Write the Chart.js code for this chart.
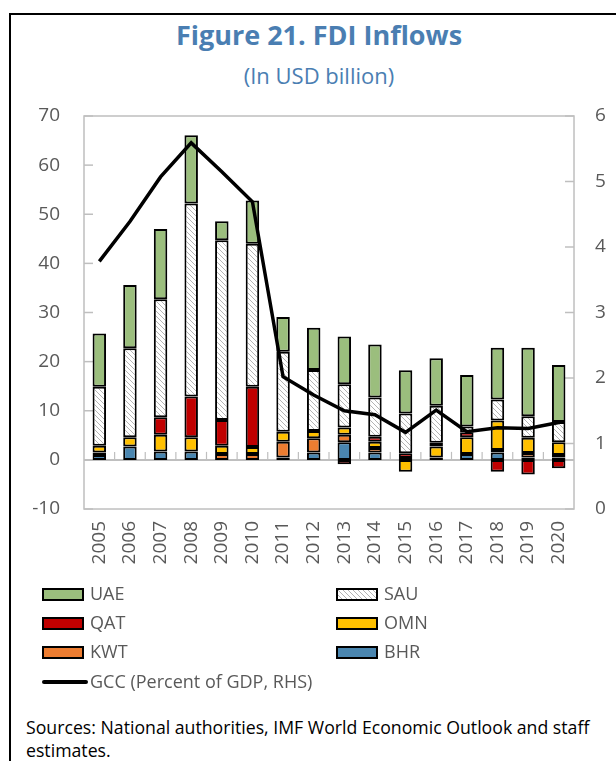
<!DOCTYPE html>
<html lang="en">
<head>
  <meta charset="UTF-8" />
  <title>Figure 21. FDI Inflows</title>
  <script src="https://cdn.jsdelivr.net/npm/chart.js"></script>
  <style>
    html, body { margin: 0; padding: 0; background: #fff; }
    body { width: 616px; height: 761px; position: relative; overflow: hidden; font-family: "Open Sans", sans-serif; }
    .frame { position: absolute; left: 9px; top: 13px; width: 700px; height: 800px; border-left: 2px solid #000; border-top: 2px solid #000; }
    .title { position: absolute; left: 0; width: 638px; top: 16px; text-align: center; color: #4A7EB2; font-weight: 700; font-size: 27px; }
    .subtitle { position: absolute; left: 0; width: 638px; top: 60px; text-align: center; color: #4A7EB2; font-size: 22px; }
    #wrap { position: absolute; left: 0; top: 90px; width: 616px; height: 500px; }
    .leg { position: absolute; font-size: 18px; color: #595959; line-height: 22px; }
    .sw { position: absolute; width: 38px; height: 9px; border: 2px solid #000; }
    .src { position: absolute; left: 26px; top: 716px; font-size: 17.7px; line-height: 23px; color: #000; white-space: nowrap; }
  </style>
</head>
<body>
<div class="frame"></div>
<div class="title">Figure 21. FDI Inflows</div>
<div class="subtitle">(In USD billion)</div>
<div id="wrap"><canvas id="chart"></canvas></div>
<div id="legend"></div>
<div class="src">Sources: National authorities, IMF World Economic Outlook and staff<br>estimates.</div>

<script>
const years = ['2005','2006','2007','2008','2009','2010','2011','2012','2013','2014','2015','2016','2017','2018','2019','2020'];
// USD billion, stacked from the bottom: BHR, KWT, OMN, QAT, SAU, UAE
const bhr = [1.0, 2.7, 1.7, 1.7, 0, 0, 0.5, 1.5, 3.6, 1.5, 0.4, 0.5, 1.2, 1.5, 0.5, 0.5];
const kwt = [0.5, 0, 0, 0, 1.2, 1.2, 3.2, 2.9, 1.5, 0.9, 0, 0, 0, 0.5, 0.9, 0.5];
const omn = [1.4, 1.9, 3.4, 2.9, 1.7, 1.4, 2.0, 1.5, 1.5, 1.3, -2.4, 2.2, 3.4, 6.0, 3.1, 2.6];
const qat = [0, 0, 3.6, 8.3, 5.2, 12.3, 0, 0, -0.9, 1.0, 0.95, 0.8, 1.0, -2.4, -3.0, -1.7];
const sau = [12.0, 18.1, 24.0, 39.3, 36.6, 29.1, 16.3, 12.4, 8.8, 8.0, 8.1, 7.5, 1.2, 4.3, 4.4, 4.1];
const uae = [10.8, 12.9, 14.3, 13.9, 3.9, 8.8, 7.1, 8.6, 9.7, 10.8, 8.8, 9.7, 10.5, 10.5, 13.9, 11.6];
// percent of GDP, right axis
const gcc = [3.78, 4.39, 5.07, 5.59, 5.15, 4.69, 2.02, 1.74, 1.50, 1.44, 1.17, 1.51, 1.18, 1.24, 1.23, 1.32];
const leftTicks = [-10, 70, 10];
const rightTicks = [0, 6, 1];

const GRAY = '#595959';
const AXIS = '#BFBFBF';

// hatch for SAU
function hatch() {
  const s = 5;
  const c = document.createElement('canvas');
  c.width = s; c.height = s;
  const g = c.getContext('2d');
  g.fillStyle = '#fff';
  g.fillRect(0, 0, s, s);
  g.strokeStyle = '#b4b4b4';
  g.lineWidth = 1;
  g.beginPath();
  g.moveTo(0, 0); g.lineTo(s, s);
  g.moveTo(-s, 0); g.lineTo(s, 2 * s);
  g.moveTo(0, -s); g.lineTo(2 * s, s);
  g.stroke();
  return g.createPattern(c, 'repeat');
}

const series = [
  { label: 'BHR', data: bhr, color: '#4A86B0' },
  { label: 'KWT', data: kwt, color: '#ED7D31' },
  { label: 'OMN', data: omn, color: '#FFC000' },
  { label: 'QAT', data: qat, color: '#C00000' },
  { label: 'SAU', data: sau, color: hatch() },
  { label: 'UAE', data: uae, color: '#9BBE7D' }
];

const datasets = series.map(s => ({
  type: 'bar',
  label: s.label,
  data: s.data,
  backgroundColor: s.color,
  borderColor: '#000',
  borderWidth: 2,
  borderSkipped: false,
  stack: 'fdi',
  yAxisID: 'y',
  order: 1,
  categoryPercentage: 1,
  barPercentage: 0.44
}));
datasets.push({
  type: 'line',
  label: 'GCC (Percent of GDP, RHS)',
  data: gcc,
  borderColor: '#000',
  borderWidth: 3.5,
  pointRadius: 0,
  tension: 0,
  yAxisID: 'y1',
  order: 0
});

// zero line, plot frame and the small inside ticks
const decor = {
  id: 'decor',
  beforeDatasetsDraw(chart) {
    const { ctx, chartArea: a, scales } = chart;
    ctx.save();
    ctx.strokeStyle = AXIS;
    ctx.lineWidth = 1.5;
    ctx.strokeRect(a.left, a.top, a.right - a.left, a.bottom - a.top);
    scales.y.ticks.forEach(t => {
      const y = scales.y.getPixelForValue(t.value);
      ctx.beginPath(); ctx.moveTo(a.left, y); ctx.lineTo(a.left + 9, y); ctx.stroke();
    });
    scales.y1.ticks.forEach(t => {
      const y = scales.y1.getPixelForValue(t.value);
      ctx.beginPath(); ctx.moveTo(a.right - 9, y); ctx.lineTo(a.right, y); ctx.stroke();
    });
    const y0 = scales.y.getPixelForValue(0);
    ctx.lineWidth = 2;
    ctx.beginPath(); ctx.moveTo(a.left, y0); ctx.lineTo(a.right, y0); ctx.stroke();
    ctx.lineWidth = 1.2;
    const step = (a.right - a.left) / years.length;
    for (let i = 1; i < years.length; i++) {
      const x = a.left + i * step;
      ctx.beginPath(); ctx.moveTo(x, y0); ctx.lineTo(x, y0 - 8); ctx.stroke();
    }
    ctx.restore();
  }
};

// vertical axes: keep the tick padding from pushing the plot down
function fixY(width) {
  return function (s) { s.width = width; s.paddingTop = 0; s.paddingBottom = 0; };
}

new Chart(document.getElementById('chart'), {
  data: { labels: years, datasets: datasets },
  options: {
    responsive: true,
    maintainAspectRatio: false,
    animation: false,
    layout: { padding: { top: 26, left: 0, right: 0, bottom: 0 } },
    plugins: { legend: { display: false }, tooltip: { enabled: false } },
    scales: {
      x: {
        stacked: true,
        grid: { display: false, drawTicks: false },
        border: { display: false },
        ticks: { color: GRAY, font: { family: 'Open Sans', size: 19 }, minRotation: 90, maxRotation: 90, padding: 12 },
        afterFit(s) { s.height = 81; }
      },
      y: {
        position: 'left',
        stacked: true,
        min: leftTicks[0], max: leftTicks[1],
        grid: { display: false, drawTicks: false },
        border: { display: false },
        ticks: { stepSize: leftTicks[2], color: GRAY, font: { family: 'Open Sans', size: 19 }, padding: 24 },
        afterFit: fixY(84)
      },
      y1: {
        position: 'right',
        min: rightTicks[0], max: rightTicks[1],
        grid: { display: false, drawTicks: false },
        border: { display: false },
        ticks: { stepSize: rightTicks[2], color: GRAY, font: { family: 'Open Sans', size: 19 }, padding: 21 },
        afterFit: fixY(42)
      }
    }
  },
  plugins: [decor]
});

// legend: two columns, UAE first
const legendRows = [
  [['UAE', '#9BBE7D'], ['SAU', 'hatch']],
  [['QAT', '#C00000'], ['OMN', '#FFC000']],
  [['KWT', '#ED7D31'], ['BHR', '#4A86B0']]
];
const leg = document.getElementById('legend');
const rowY = [594, 623, 652];
legendRows.forEach((row, r) => {
  row.forEach((item, c) => {
    const x0 = c === 0 ? 42 : 336;
    const sw = document.createElement('div');
    sw.className = 'sw';
    sw.style.left = x0 + 'px';
    sw.style.top = (rowY[r] - 6) + 'px';
    sw.style.background = item[1] === 'hatch'
      ? 'repeating-linear-gradient(45deg, #fff 0 2.5px, #b4b4b4 2.5px 3.5px)'
      : item[1];
    leg.appendChild(sw);
    const t = document.createElement('div');
    t.className = 'leg';
    t.style.left = (x0 + 48) + 'px';
    t.style.top = (rowY[r] - 12) + 'px';
    t.textContent = item[0];
    leg.appendChild(t);
  });
});
const ln = document.createElement('div');
ln.style.cssText = 'position:absolute;left:42px;top:680px;width:46px;height:3.5px;background:#000;border-radius:2px;';
leg.appendChild(ln);
const lt = document.createElement('div');
lt.className = 'leg';
lt.style.left = '90px';
lt.style.top = '670px';
lt.textContent = 'GCC (Percent of GDP, RHS)';
leg.appendChild(lt);
</script>
</body>
</html>
